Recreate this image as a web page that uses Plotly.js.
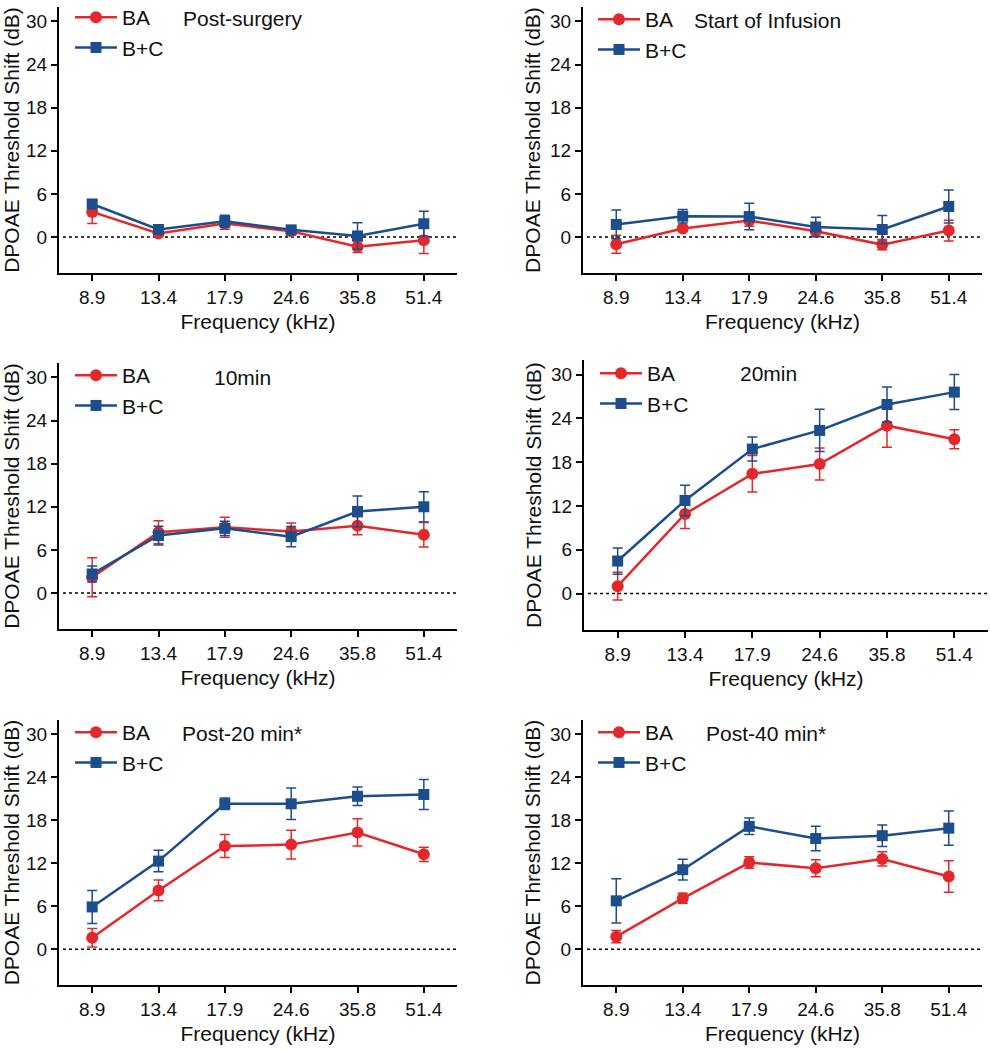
<!DOCTYPE html>
<html>
<head>
<meta charset="utf-8">
<script src="https://cdn.plot.ly/plotly-3.0.1.min.js"></script>
<style>html,body{margin:0;padding:0;background:#fff;}#chart{width:990px;height:1050px;}</style>
</head>
<body>
<div id="chart"></div>
<script>
// ---- Data ----
const freqs = ['8.9', '13.4', '17.9', '24.6', '35.8', '51.4'];
const panelTitles = ['Post-surgery', 'Start of Infusion', '10min', '20min', 'Post-20 min*', 'Post-40 min*'];
const seriesNames = ['BA', 'B+C'];
const yTicks = [0, 6, 12, 18, 24, 30];

const baPostSurgery = [3.5, 0.5, 1.9, 0.8, -1.35, -0.45];
const baPostSurgeryErr = [1.6, 0.3, 0.8, 0.5, 0.8, 1.85];
const bcPostSurgery = [4.6, 1.05, 2.2, 1.0, 0.15, 1.85];
const bcPostSurgeryErr = [0.5, 0.4, 0.85, 0.5, 1.85, 1.75];

const baStartInfusion = [-1.0, 1.2, 2.3, 0.8, -1.05, 0.9];
const baStartInfusionErr = [1.25, 0.4, 0.8, 0.7, 0.7, 1.45];
const bcStartInfusion = [1.75, 2.9, 2.85, 1.4, 1.05, 4.25];
const bcStartInfusionErr = [2.0, 0.95, 1.85, 1.35, 1.95, 2.3];

const ba10min = [2.2, 8.45, 9.15, 8.55, 9.35, 8.1];
const ba10minErr = [2.7, 1.6, 1.4, 1.2, 1.25, 1.7];
const bc10min = [2.65, 8.0, 9.0, 7.85, 11.35, 12.0];
const bc10minErr = [1.1, 1.3, 1.0, 1.4, 2.15, 2.1];

const ba20min = [1.0, 10.9, 16.4, 17.75, 23.0, 21.15];
const ba20minErr = [1.9, 2.0, 2.5, 2.2, 2.95, 1.3];
const bc20min = [4.45, 12.75, 19.8, 22.35, 25.9, 27.6];
const bc20minErr = [1.8, 2.1, 1.65, 2.9, 2.4, 2.4];

const baPost20 = [1.6, 8.2, 14.4, 14.6, 16.3, 13.25];
const baPost20Err = [1.3, 1.45, 1.6, 2.0, 1.9, 1.0];
const bcPost20 = [5.9, 12.3, 20.3, 20.3, 21.35, 21.6];
const bcPost20Err = [2.3, 1.5, 0.8, 2.2, 1.3, 2.1];

const baPost40 = [1.75, 7.1, 12.1, 11.3, 12.6, 10.15];
const baPost40Err = [0.85, 0.7, 0.8, 1.2, 1.0, 2.2];
const bcPost40 = [6.75, 11.1, 17.15, 15.45, 15.85, 16.9];
const bcPost40Err = [3.1, 1.45, 1.15, 1.7, 1.5, 2.4];

const baSets = [baPostSurgery, baStartInfusion, ba10min, ba20min, baPost20, baPost40];
const baErrSets = [baPostSurgeryErr, baStartInfusionErr, ba10minErr, ba20minErr, baPost20Err, baPost40Err];
const bcSets = [bcPostSurgery, bcStartInfusion, bc10min, bc20min, bcPost20, bcPost40];
const bcErrSets = [bcPostSurgeryErr, bcStartInfusionErr, bc10minErr, bc20minErr, bcPost20Err, bcPost40Err];

// ---- Layout geometry (pixels) ----
const W = 990, H = 1050;
const boxes = [
  {x0: 59, x1: 457, y0: 7, y1: 273, lx: 70, ly: -3, tx: 181, ty: 19},
  {x0: 583, x1: 982, y0: 7, y1: 273, lx: 593, ly: -1, tx: 692, ty: 20},
  {x0: 59, x1: 457, y0: 363, y1: 629, lx: 70, ly: 355, tx: 212, ty: 377},
  {x0: 584, x1: 988, y0: 360, y1: 630, lx: 595, ly: 353, tx: 738, ty: 373},
  {x0: 59, x1: 457, y0: 720, y1: 985, lx: 70, ly: 712, tx: 180, ty: 733},
  {x0: 583, x1: 982, y0: 720, y1: 985, lx: 593, ly: 712, tx: 704, ty: 733}
];

const RED = '#E3282C';
const BLUE = '#1C4D8C';
const FONT = 'Liberation Sans, Arial, Helvetica, sans-serif';

const data = [];
const layout = {
  width: W, height: H,
  margin: {l: 0, r: 0, t: 0, b: 0, autoexpand: false},
  paper_bgcolor: '#fff', plot_bgcolor: '#fff',
  font: {family: FONT, color: '#111'},
  showlegend: true,
  shapes: [], annotations: []
};

boxes.forEach((b, i) => {
  const n = i + 1;
  const xa = n === 1 ? 'x' : 'x' + n;
  const ya = n === 1 ? 'y' : 'y' + n;
  const leg = n === 1 ? 'legend' : 'legend' + n;
  const xKey = n === 1 ? 'xaxis' : 'xaxis' + n;
  const yKey = n === 1 ? 'yaxis' : 'yaxis' + n;

  data.push({
    type: 'scatter', mode: 'lines+markers', name: seriesNames[0],
    x: freqs, y: baSets[i], xaxis: xa, yaxis: ya, legend: leg,
    line: {color: RED, width: 2.5},
    marker: {symbol: 'circle', size: 12, color: RED},
    error_y: {type: 'data', array: baErrSets[i], visible: true, color: RED, thickness: 1.5, width: 5},
    cliponaxis: false
  });
  data.push({
    type: 'scatter', mode: 'lines+markers', name: seriesNames[1],
    x: freqs, y: bcSets[i], xaxis: xa, yaxis: ya, legend: leg,
    line: {color: BLUE, width: 2.5},
    marker: {symbol: 'square', size: 11, color: BLUE},
    error_y: {type: 'data', array: bcErrSets[i], visible: true, color: BLUE, thickness: 1.5, width: 5},
    cliponaxis: false
  });

  layout[xKey] = {
    domain: [b.x0 / W, b.x1 / W],
    anchor: ya,
    type: 'category',
    range: [-0.5, 5.5],
    showline: true, linecolor: '#000', linewidth: 2,
    ticks: 'outside', ticklen: 6, tickwidth: 2, tickcolor: '#000',
    showgrid: false, zeroline: false,
    tickfont: {size: 19, family: FONT, color: '#111'},
    title: {text: 'Frequency (kHz)', font: {size: 21, family: FONT, color: '#111'}, standoff: 8},
    automargin: false, fixedrange: true
  };
  layout[yKey] = {
    domain: [1 - b.y1 / H, 1 - b.y0 / H],
    anchor: xa,
    range: [-5, 32],
    tickvals: yTicks,
    showline: true, linecolor: '#000', linewidth: 2,
    ticks: 'outside', ticklen: 6, tickwidth: 2, tickcolor: '#000',
    showgrid: false, zeroline: false,
    tickfont: {size: 19, family: FONT, color: '#111'},
    title: {text: 'DPOAE Threshold Shift (dB)', font: {size: 21, family: FONT, color: '#111'}, standoff: 4},
    automargin: false, fixedrange: true
  };
  layout[leg] = {
    x: b.lx / W, y: 1 - b.ly / H, xanchor: 'left', yanchor: 'top',
    bgcolor: 'rgba(0,0,0,0)', borderwidth: 0,
    font: {size: 21, family: FONT, color: '#111'},
    itemwidth: 42,
    tracegroupgap: 0
  };
  layout.shapes.push({
    type: 'line', xref: xa + ' domain', yref: ya,
    x0: 0.01, x1: 1, y0: 0, y1: 0,
    line: {color: '#000', width: 1.5, dash: 'dot'}, layer: 'below'
  });
  layout.annotations.push({
    text: panelTitles[i], xref: 'paper', yref: 'paper',
    x: b.tx / W, y: 1 - b.ty / H, xanchor: 'left', yanchor: 'middle',
    showarrow: false, font: {size: 21, family: FONT, color: '#111'}
  });
});

Plotly.newPlot('chart', data, layout, {staticPlot: true, displayModeBar: false});
</script>
</body>
</html>
